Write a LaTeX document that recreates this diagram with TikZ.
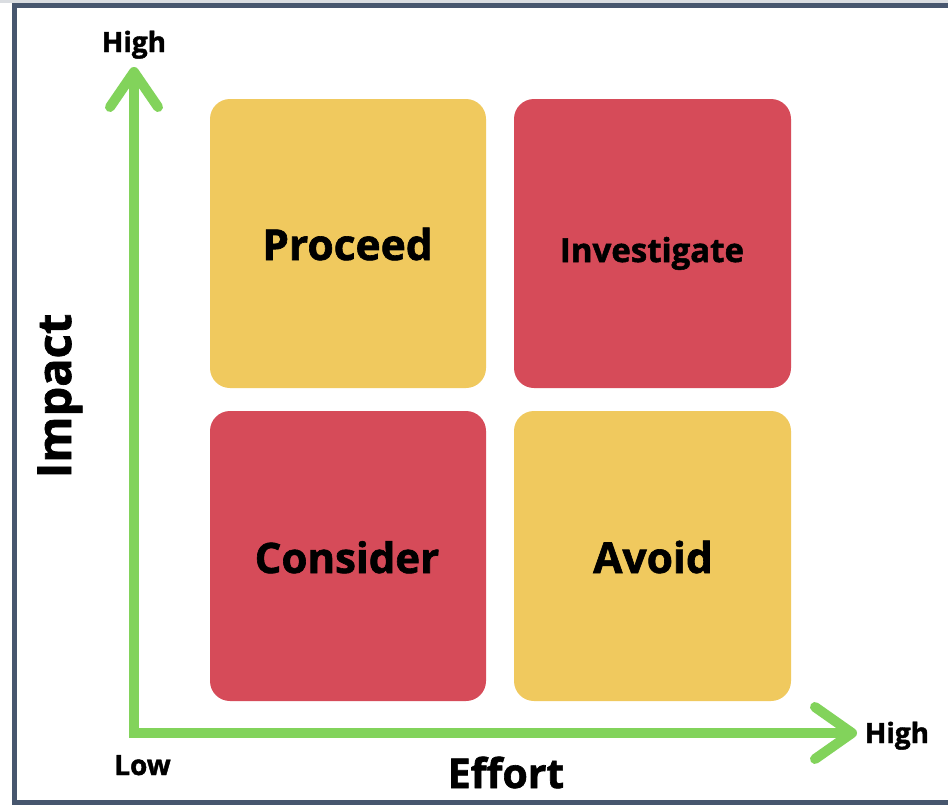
\documentclass[tikz,border=0pt]{standalone}
\usepackage{fontspec}
\setmainfont{Open Sans}[BoldFeatures={FakeBold=1.5}]
\definecolor{frameC}{HTML}{47566E}
\definecolor{yellowC}{HTML}{F0C95E}
\definecolor{redC}{HTML}{D64B59}
\definecolor{greenC}{HTML}{82D35B}
\definecolor{topC}{HTML}{DADDE1}
\begin{document}
\begin{tikzpicture}[x=1pt,y=-1pt,
  quad/.style={rounded corners=20pt},
  lbl/.style={inner sep=0pt, anchor=base, font=\bfseries\fontsize{#1}{#1}\selectfont},
  axis/.style={draw=greenC, line width=10pt}]
\useasboundingbox (0,0) rectangle (948,804);
\fill[white] (0,0) rectangle (948,804);
\fill[topC] (0,0) rectangle (948,3);
\draw[frameC, line width=5pt] (14.5,5.5) rectangle (970,802.5);
% quadrants
\fill[yellowC, quad] (210,99) rectangle (486,388);
\fill[redC, quad] (514,99) rectangle (791,388);
\fill[redC, quad] (210,411) rectangle (486,701);
\fill[yellowC, quad] (514,411) rectangle (791,701);
% axes
\coordinate (origin) at (134,733);
\coordinate (ytip) at (134,72);
\coordinate (xtip) at (852,733);
\draw[axis, line join=miter] (xtip) -- (origin) -- (ytip);
\draw[axis, line cap=round, line join=round] (110,107) -- (ytip) -- (158,107);
\draw[axis, line cap=round, line join=round] (815,707) -- (xtip) -- (815,759);
% labels
\node[lbl=42.5] (proceed) at (347.5,260) {Proceed};
\node[lbl=33] (investigate) at (652,262) {Investigate};
\node[lbl=42] (consider) at (347,573) {Consider};
\node[lbl=42.5] (avoid) at (653,573) {Avoid};
\node[lbl=28] (hightop) at (134,52) {High};
\node[lbl=28] (highright) at (897,743) {High};
\node[lbl=28] (low) at (142.5,775) {Low};
\node[lbl=41] (effort) at (506,788) {Effort};
\node[lbl=47, rotate=90] (impact) at (71,396) {Impact};
\end{tikzpicture}
\end{document}
